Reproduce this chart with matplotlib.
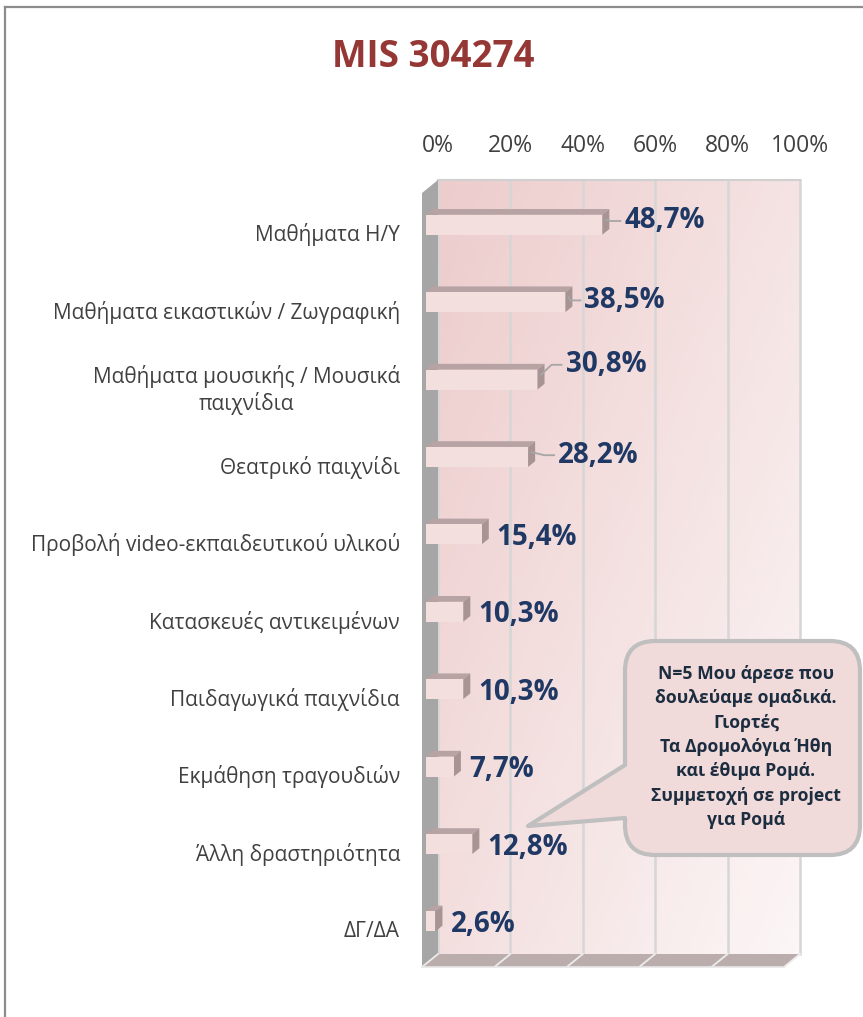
import numpy as np
import matplotlib.pyplot as plt
from matplotlib.patches import Polygon, PathPatch
from matplotlib.path import Path

plt.rcParams['font.family'] = ['Open Sans', 'DejaVu Sans']

# Data
categories = [
    'Μαθήματα Η/Υ',
    'Μαθήματα εικαστικών / Ζωγραφική',
    'Μαθήματα μουσικής / Μουσικά\nπαιχνίδια',
    'Θεατρικό παιχνίδι',
    'Προβολή video-εκπαιδευτικού υλικού',
    'Κατασκευές αντικειμένων',
    'Παιδαγωγικά παιχνίδια',
    'Εκμάθηση τραγουδιών',
    'Άλλη δραστηριότητα',
    'ΔΓ/ΔΑ',
]
values = [48.7, 38.5, 30.8, 28.2, 15.4, 10.3, 10.3, 7.7, 12.8, 2.6]
ticks = [0, 20, 40, 60, 80, 100]
title = 'MIS 304274'
note = ('N=5 Μου άρεσε που\nδουλεύαμε ομαδικά.\nΓιορτές\nΤα Δρομολόγια Ήθη\n'
        'και έθιμα Ρομά.\nΣυμμετοχή σε project\nγια Ρομά')

# Colours
text_grey = '#404040'
label_blue = '#1f3864'
title_red = '#953735'

W, H = 863, 1017
fig = plt.figure(figsize=(W / 100, H / 100), dpi=100)

# Front plane of the 3D box, in pixels (0% at X0, 100% at X1)
X0, X1 = 422, 784
AX_RIGHT = 812
ROW0, ROW_STEP = 228, 77.4
AX_TOP, AX_BOT = 160, 980
ax = fig.add_axes([X0 / W, 1 - AX_BOT / H, (AX_RIGHT - X0) / W, (AX_BOT - AX_TOP) / H])

px_x = 100 / (X1 - X0)
px_y = 1 / ROW_STEP
DEPTH = (16, 13)


def pt(x, y, z):
    '''point on depth z (0 front, 1 back wall)'''
    return (x + DEPTH[0] * z * px_x, y - DEPTH[1] * z * px_y)


Y_TOP = (193 - ROW0) / ROW_STEP
Y_BOT = (967 - ROW0) / ROW_STEP

# Back wall with gradient
xl, yt = pt(0, Y_TOP, 1)
xr, yb = pt(100, Y_BOT, 1)
u = np.linspace(0, 1, 80)
uu, vv = np.meshgrid(u, u)
t = (0.55 * uu + 0.45 * vv)[..., None]
c0 = np.array([237, 204, 204]) / 255
c1 = np.array([252, 246, 246]) / 255
grad = c0 * (1 - t) + c1 * t
ax.imshow(grad, extent=(xl, xr, yb, yt), origin='upper', aspect='auto', zorder=0)

for tk in ticks:
    a, b = pt(tk, Y_TOP, 1), pt(tk, Y_BOT, 1)
    ax.plot([a[0], b[0]], [a[1], b[1]], color='#d6d6d6', lw=1.8, zorder=1)
a, b = pt(0, Y_TOP, 1), pt(100, Y_TOP, 1)
ax.plot([a[0], b[0]], [a[1], b[1]], color='#d0d0d0', lw=1.5, zorder=1)

# Left wall and floor
ax.add_patch(Polygon([pt(0, Y_TOP, 0), pt(0, Y_TOP, 1), pt(0, Y_BOT, 1), pt(0, Y_BOT, 0)],
                     fc='#a6a6a6', ec='none', clip_on=False, zorder=2))
ax.add_patch(Polygon([pt(0, Y_BOT, 0), pt(100, Y_BOT, 0), pt(100, Y_BOT, 1), pt(0, Y_BOT, 1)],
                     fc='#bcadad', ec='none', clip_on=False, zorder=2))
for tk in ticks:
    a, b = pt(tk, Y_BOT, 0), pt(tk, Y_BOT, 1)
    ax.plot([a[0], b[0]], [a[1], b[1]], color='#ececec', lw=1.3, zorder=3, clip_on=False)
a, b = pt(0, Y_BOT, 0), pt(100, Y_BOT, 0)
ax.plot([a[0], b[0]], [a[1], b[1]], color='#e6e6e6', lw=1.2, zorder=3, clip_on=False)

# Bars
z0, z1 = 0.25, 0.69
h = 20 * px_y
nudge = {0: (7, -7), 1: (4, -5), 2: (13, -18), 3: (15, -5)}
for i, v in enumerate(values):
    top, bot = i - h / 2, i + h / 2
    ax.add_patch(Polygon([pt(0, top, z0), pt(v, top, z0), pt(v, top, z1), pt(0, top, z1)],
                         fc='#b7a3a3', ec='none', zorder=4, clip_on=False))
    ax.add_patch(Polygon([pt(v, top, z0), pt(v, bot, z0), pt(v, bot, z1), pt(v, top, z1)],
                         fc='#a89494', ec='none', zorder=4, clip_on=False))
    ax.add_patch(Polygon([pt(0, top, z0), pt(v, top, z0), pt(v, bot, z0), pt(0, bot, z0)],
                         fc='#f3dfde', ec='none', zorder=5, clip_on=False))

    nx, ny = nudge.get(i, (0, 0))
    lx = pt(v, i, z1)[0] + (8 + nx) * px_x
    ly = i + ny * px_y
    ax.text(lx, ly, f'{v:.1f}'.replace('.', ',') + '%', ha='left', va='center',
            fontsize=20, fontweight='bold', color=label_blue, zorder=6)
    if i in nudge:
        sx, sy = pt(v, i - 2 * px_y, (z0 + z1) / 2)
        ex = lx - 4 * px_x
        mx = ex - 10 * px_x
        ax.plot([sx, mx, ex], [sy, ly, ly], color='#a6a6a6', lw=1.3, zorder=6)

    ax.text((400 - X0) * px_x, i + 7 * px_y, categories[i], ha='right', va='center',
            multialignment='center', fontsize=15, color=text_grey, linespacing=1.25)

# Top tick labels
for tk in ticks:
    ax.text(pt(tk, 0, 1)[0], (146 - ROW0) / ROW_STEP, f'{tk}%', ha='center', va='center',
            fontsize=16.5, color=text_grey)

ax.set_xlim(0, (AX_RIGHT - X0) * px_x)
ax.set_ylim((AX_BOT - ROW0) / ROW_STEP, (AX_TOP - ROW0) / ROW_STEP)
ax.axis('off')

# Overlay in pixel units: frame, title, callout
ov = fig.add_axes([0, 0, 1, 1], zorder=10)
ov.set_xlim(0, W)
ov.set_ylim(H, 0)
ov.axis('off')
ov.patch.set_alpha(0)

ov.plot([5, 5], [H, 7], color='#8c8c8c', lw=1.6)
ov.plot([5, W], [7, 7], color='#8c8c8c', lw=1.6)

ov.text(433, 57, title, ha='center', va='center', fontsize=26.5, fontweight='bold', color=title_red)

L, R, T, B, r = 625, 860, 641, 855, 30
verts = [
    (L + r, T), (R - r, T), (R, T), (R, T + r), (R, B - r), (R, B), (R - r, B),
    (L + r, B), (L, B), (L, B - r), (L, 818), (528, 826), (L, 765), (L, T + r),
    (L, T), (L + r, T), (L + r, T),
]
codes = [
    Path.MOVETO, Path.LINETO, Path.CURVE3, Path.CURVE3, Path.LINETO, Path.CURVE3, Path.CURVE3,
    Path.LINETO, Path.CURVE3, Path.CURVE3, Path.LINETO, Path.LINETO, Path.LINETO, Path.LINETO,
    Path.CURVE3, Path.CURVE3, Path.CLOSEPOLY,
]
ov.add_patch(PathPatch(Path(verts, codes), fc='#f0dada', ec='#bfbfbf', lw=3, joinstyle='round'))
ov.text(746, 747, note, ha='center', va='center', multialignment='center', fontsize=12.7,
        fontweight='bold', color='#1c2d40', linespacing=1.45)

plt.savefig('out.png', dpi=100)
